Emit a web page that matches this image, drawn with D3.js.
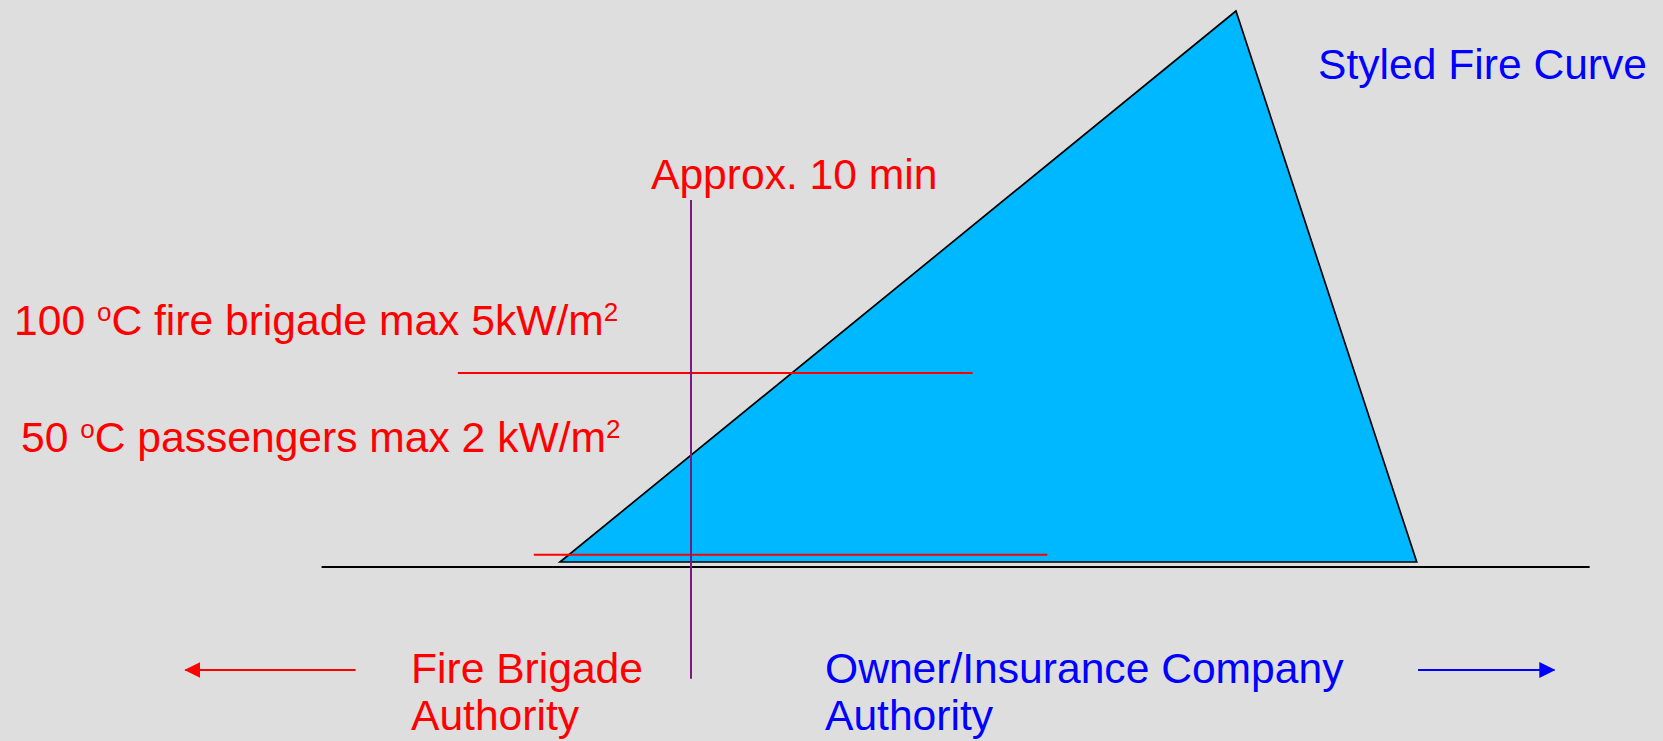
<!DOCTYPE html>
<html><head><meta charset="utf-8">
<script src="https://cdn.jsdelivr.net/npm/d3@7"></script>
<style>
html,body{margin:0;padding:0;background:#dedede;}
svg{display:block;}
text{font-family:"Liberation Sans",Arial,sans-serif;}
</style></head>
<body>
<script>
// Schematic fire curve: time (min from ignition) vs. relative level
const curveTime  = [0, 51.6, 65.4];
const curveLevel = [0, 100, 0];
const axisTime   = [-18.2, 78.6];   // extent of the horizontal time axis
const axisLevel  = -0.9;
const markerTime = 10;              // "Approx. 10 min"
const markerLevels = [65.7, -21.2];
const limitNames  = ["fire brigade", "passengers"];
const limitLevels = [34.3, 1.3];
const limitStart  = [-7.8, -2.0];
const limitEnd    = [31.5, 37.2];
const arrowLeft   = [-15.6, -28.6];  // [tail, tip]
const arrowRight  = [65.5, 75.9];
const arrowLevel  = -19.6;

const W = 1663, H = 741;
const x = d3.scaleLinear().domain([0, 10]).range([560, 691]);
const y = d3.scaleLinear().domain([0, 100]).range([562, 11]);

const svg = d3.select("body").append("svg").attr("width", W).attr("height", H);
svg.append("rect").attr("width", W).attr("height", H).attr("fill", "#dedede");

const defs = svg.append("defs");
function marker(id, color){
  defs.append("marker").attr("id", id).attr("viewBox","0 0 16 16")
    .attr("refX", 15).attr("refY", 8).attr("markerWidth", 16).attr("markerHeight", 16)
    .attr("markerUnits","userSpaceOnUse").attr("orient","auto")
    .append("path").attr("d","M0,0 L16,8 L0,16 Z").attr("fill", color);
}
marker("arrRed", "#ff0000");
marker("arrBlue", "#0000ff");

// fire curve triangle
const pts = curveTime.map((t,i)=>[x(t), y(curveLevel[i])]);
svg.append("path").attr("d", d3.line()(pts) + "Z")
  .attr("fill", "#00b8ff").attr("stroke", "#000").attr("stroke-width", 1.7);

// time axis
svg.append("line").attr("x1", x(axisTime[0])).attr("x2", x(axisTime[1]))
  .attr("y1", y(axisLevel)).attr("y2", y(axisLevel))
  .attr("stroke", "#000").attr("stroke-width", 2);

// limit lines
limitLevels.forEach((lv,i)=>{
  svg.append("line").attr("x1", x(limitStart[i])).attr("x2", x(limitEnd[i]))
    .attr("y1", y(lv)).attr("y2", y(lv))
    .attr("stroke", "#ff0000").attr("stroke-width", 2);
});

// 10 min marker
svg.append("line").attr("x1", x(markerTime)).attr("x2", x(markerTime))
  .attr("y1", y(markerLevels[0])).attr("y2", y(markerLevels[1]))
  .attr("stroke", "#7a1a80").attr("stroke-width", 2);

// arrows
svg.append("line").attr("x1", x(arrowLeft[0])).attr("x2", x(arrowLeft[1]))
  .attr("y1", y(arrowLevel)).attr("y2", y(arrowLevel))
  .attr("stroke", "#ff0000").attr("stroke-width", 2.2).attr("marker-end","url(#arrRed)");
svg.append("line").attr("x1", x(arrowRight[0])).attr("x2", x(arrowRight[1]))
  .attr("y1", y(arrowLevel)).attr("y2", y(arrowLevel))
  .attr("stroke", "#0000ff").attr("stroke-width", 2.2).attr("marker-end","url(#arrBlue)");

// texts
const FS = 42.6;
function txt(px, py, color){
  return svg.append("text").attr("x", px).attr("y", py).attr("fill", color)
    .attr("font-size", FS);
}
function sup(t, s){
  t.append("tspan").attr("font-size", 26).attr("dy", -14).text(s);
  return t;
}
function norm(t, s){
  t.append("tspan").attr("dy", 14).text(s);
  return t;
}

txt(651, 189, "#ff0000").text("Approx. 10 min");
txt(1318, 79, "#0000ff").text("Styled Fire Curve");

let t1 = txt(14, 335, "#ff0000");
t1.append("tspan").text("100 ");
sup(t1, "o");
norm(t1, "C fire brigade max 5kW/m");
sup(t1, "2");

let t2 = txt(21, 452, "#ff0000");
t2.append("tspan").text("50 ");
sup(t2, "o");
norm(t2, "C passengers max 2 kW/m");
sup(t2, "2");

let fb = txt(411, 683, "#ff0000");
fb.append("tspan").attr("x", 411).text("Fire Brigade");
fb.append("tspan").attr("x", 411).attr("dy", 47).text("Authority");

let ow = txt(825, 683, "#0000ff");
ow.append("tspan").attr("x", 825).text("Owner/Insurance Company");
ow.append("tspan").attr("x", 825).attr("dy", 47).text("Authority");
</script>
</body></html>
